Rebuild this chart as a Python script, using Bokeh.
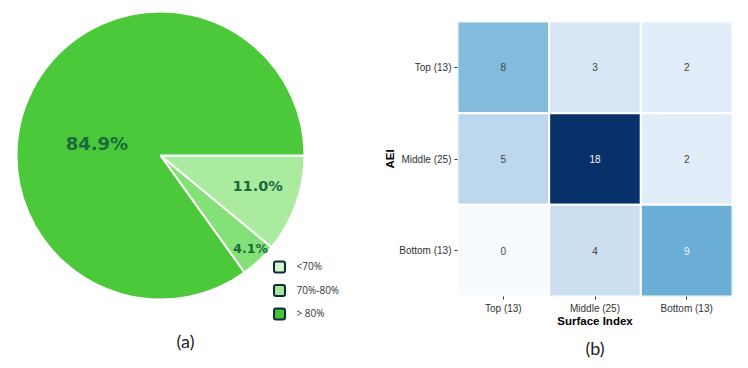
import math
from bokeh.plotting import figure
from bokeh.layouts import row
from bokeh.models import Range1d, ColumnDataSource, Title, LinearColorMapper
from bokeh.palettes import Blues256
from bokeh.core.properties import value
from bokeh.embed import file_html
from bokeh.resources import INLINE

# ---------------- data ----------------
pie_labels = ["<70%", "70%-80%", "> 80%"]
pie_values = [11.0, 4.1, 84.9]
pie_colors = ["#aaeba0", "#84e178", "#4bc93a"]
legend_colors = ["#d5f5d0", "#a6e59c", "#45c236"]

surface_cats = ["Top (13)", "Middle (25)", "Bottom (13)"]
aei_cats = ["Top (13)", "Middle (25)", "Bottom (13)"]
counts = [
    [8, 3, 2],    # AEI Top
    [5, 18, 2],   # AEI Middle
    [0, 4, 9],    # AEI Bottom
]

# ---------------- pie (a) ----------------
W1, H = 380, 368
p1 = figure(width=W1, height=H, output_backend="svg", toolbar_location=None,
            x_range=Range1d(0, W1), y_range=Range1d(-H, 0),
            min_border=0)
p1.axis.visible = False
p1.grid.visible = False
p1.outline_line_color = None
p1.frame_align = False

cx, cy, R = 160, -155, 144
total = sum(pie_values)
starts, ends = [], []
acc = 0.0
for v in pie_values:
    a0 = -acc / total * 2 * math.pi
    acc += v
    a1 = -acc / total * 2 * math.pi
    starts.append(a0)
    ends.append(a1)

src = ColumnDataSource(dict(start=starts, end=ends, color=pie_colors))
p1.wedge(x=cx, y=cy, radius=R, start_angle="start", end_angle="end",
         direction="clock", fill_color="color", line_color="white",
         line_width=2, source=src)

# percentage labels (placement = style)
label_r = [0.708, 0.90, 0.45]
label_ang = [-17.7, -45.9, 169.0]
label_sizes = ["14.5px", "12.5px", "18px"]
for i, v in enumerate(pie_values):
    ang = math.radians(label_ang[i])
    lx = cx + label_r[i] * R * math.cos(ang)
    ly = cy + label_r[i] * R * math.sin(ang)
    p1.text(x=[lx], y=[ly], text=[f"{v:.1f}%"], text_align="center",
            text_baseline="middle", text_font=value("DejaVu Sans"),
            text_font_style="bold", text_font_size=label_sizes[i],
            text_color="#1a6b3c")

# legend
lg_x, lg_y0, lg_dy = 279, -266.5, 23.5
lys = [lg_y0 - i * lg_dy for i in range(len(pie_labels))]
p1.rect(x=[lg_x] * 3, y=lys, width=11, height=11, fill_color=legend_colors,
        line_color="#0f2a3a", line_width=2, border_radius=2)
p1.text(x=[lg_x + 17] * 3, y=[yy + 1 for yy in lys], text=pie_labels,
        text_align="left", text_baseline="middle",
        text_font=value("Open Sans"), text_font_size="10px",
        text_color="#333333")

p1.text(x=[185], y=[-340], text=["(a)"], text_align="center",
        text_baseline="middle", text_font=value("Lato"),
        text_font_size="18px", text_color="#222222")

# ---------------- heatmap (b) ----------------
W2 = 368
p2 = figure(width=W2, height=H, output_backend="svg", toolbar_location=None,
            x_range=surface_cats, y_range=list(reversed(aei_cats)),
            min_border_left=77, min_border_right=16, min_border_top=21,
            min_border_bottom=72)
p2.grid.visible = False
p2.outline_line_color = None
p2.frame_align = False

xs, ys, vals, txt, tcol = [], [], [], [], []
vmax = max(max(r) for r in counts)
for i, a in enumerate(aei_cats):
    for j, s in enumerate(surface_cats):
        v = counts[i][j]
        xs.append(s)
        ys.append(a)
        vals.append(v)
        txt.append(str(v))
        tcol.append("#f4f4f4" if v / vmax > 0.47 else "#444444")

mapper = LinearColorMapper(palette=list(reversed(Blues256)), low=0, high=vmax)
hsrc = ColumnDataSource(dict(x=xs, y=ys, v=vals, t=txt, c=tcol))
p2.rect(x="x", y="y", width=1, height=1, source=hsrc,
        fill_color={"field": "v", "transform": mapper},
        line_color="white", line_width=2)
p2.text(x="x", y="y", text="t", source=hsrc, text_align="center",
        text_baseline="middle", text_color="c",
        text_font=value("Liberation Sans"), text_font_size="10px")

for ax in (p2.xaxis, p2.yaxis):
    ax.axis_line_color = None
    ax.major_tick_in = 0
    ax.major_tick_out = 3
    ax.major_tick_line_color = "#333333"
    ax.major_label_text_font = "Liberation Sans"
    ax.major_label_text_font_size = "10px"
    ax.major_label_text_color = "#333333"
    ax.axis_label_text_font = "Liberation Sans"
    ax.axis_label_text_font_style = "bold"
    ax.axis_label_text_font_size = "11.5px"
    ax.axis_label_text_color = "#000000"
    ax.major_label_standoff = 3
p2.xaxis.axis_label = "Surface Index"
p2.yaxis.axis_label = "AEI"
p2.xaxis.axis_label_standoff = -2
p2.yaxis.axis_label_standoff = 0

p2.add_layout(Title(text="(b)", align="center", text_font="Lato",
                    text_font_size="18px", text_font_style="normal",
                    text_color="#222222", standoff=10), "below")

layout = row(p1, p2)
open("out.html", "w").write(file_html(layout, INLINE))
